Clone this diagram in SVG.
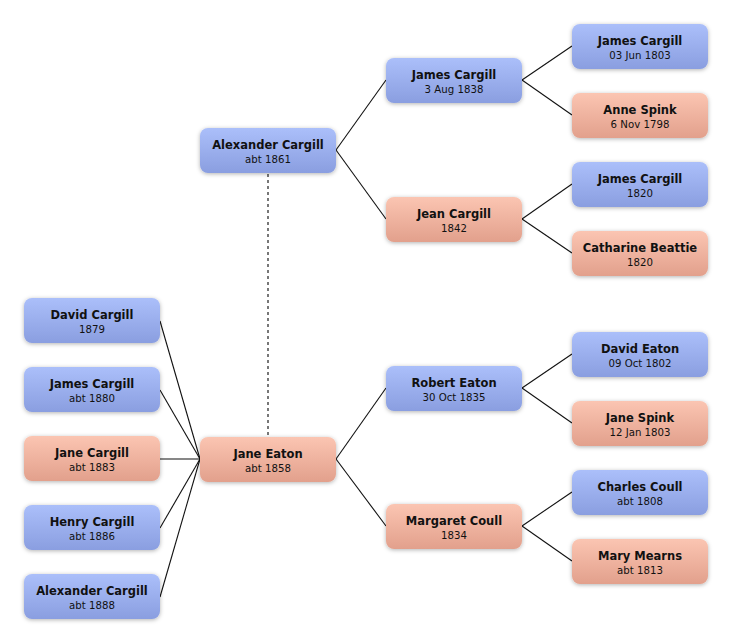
<svg xmlns="http://www.w3.org/2000/svg" width="732" height="644" viewBox="0 0 732 644">
<defs>
<linearGradient id="gb" x1="0" y1="0" x2="0" y2="1"><stop offset="0" stop-color="#abbffa"/><stop offset="1" stop-color="#8a9ee0"/></linearGradient>
<linearGradient id="gp" x1="0" y1="0" x2="0" y2="1"><stop offset="0" stop-color="#fbc5b2"/><stop offset="1" stop-color="#e2a08c"/></linearGradient>
<filter id="sh" x="-20%" y="-30%" width="140%" height="160%"><feDropShadow dx="0" dy="1" stdDeviation="2" flood-color="#000" flood-opacity="0.3"/></filter>
</defs>
<style>
.b{fill:url(#gb);filter:url(#sh)}
.p{fill:url(#gp);filter:url(#sh)}
.n{font-family:"DejaVu Sans",sans-serif;font-weight:bold;font-size:11.5px;fill:#111;text-anchor:middle}
.d{font-family:"DejaVu Sans",sans-serif;font-size:10.2px;fill:#111;text-anchor:middle}
.l{stroke:#111;stroke-width:1.1;fill:none}
.dash{stroke:#777;stroke-width:2;stroke-dasharray:3 3;fill:none}
</style>
<rect width="732" height="644" fill="#fff"/>
<g id="connectors">
<line class="dash" x1="268" y1="174" x2="268" y2="436"/>
<line class="l" x1="336" y1="150" x2="386" y2="80"/>
<line class="l" x1="336" y1="150" x2="386" y2="219"/>
<line class="l" x1="522" y1="80" x2="572" y2="46"/>
<line class="l" x1="522" y1="80" x2="572" y2="115"/>
<line class="l" x1="522" y1="219" x2="572" y2="184"/>
<line class="l" x1="522" y1="219" x2="572" y2="253"/>
<line class="l" x1="336" y1="459" x2="386" y2="388"/>
<line class="l" x1="336" y1="459" x2="386" y2="526"/>
<line class="l" x1="522" y1="388" x2="572" y2="354"/>
<line class="l" x1="522" y1="388" x2="572" y2="423"/>
<line class="l" x1="522" y1="526" x2="572" y2="492"/>
<line class="l" x1="522" y1="526" x2="572" y2="561"/>
<line class="l" x1="200" y1="459" x2="160" y2="321"/>
<line class="l" x1="200" y1="459" x2="160" y2="390"/>
<line class="l" x1="200" y1="459" x2="160" y2="459"/>
<line class="l" x1="200" y1="459" x2="160" y2="528"/>
<line class="l" x1="200" y1="459" x2="160" y2="597"/>
</g>
<g id="n-alexander-1861"><rect class="b" x="200" y="128" width="136" height="45" rx="8"/><text class="n" x="268" y="149">Alexander Cargill</text><text class="d" x="268" y="163">abt 1861</text></g>
<g id="n-jane-eaton"><rect class="p" x="200" y="437" width="136" height="45" rx="8"/><text class="n" x="268" y="458">Jane Eaton</text><text class="d" x="268" y="472">abt 1858</text></g>
<g id="n-james-1838"><rect class="b" x="386" y="58" width="136" height="45" rx="8"/><text class="n" x="454" y="79">James Cargill</text><text class="d" x="454" y="93">3 Aug 1838</text></g>
<g id="n-jean"><rect class="p" x="386" y="197" width="136" height="45" rx="8"/><text class="n" x="454" y="218">Jean Cargill</text><text class="d" x="454" y="232">1842</text></g>
<g id="n-robert"><rect class="b" x="386" y="366" width="136" height="45" rx="8"/><text class="n" x="454" y="387">Robert Eaton</text><text class="d" x="454" y="401">30 Oct 1835</text></g>
<g id="n-margaret"><rect class="p" x="386" y="504" width="136" height="45" rx="8"/><text class="n" x="454" y="525">Margaret Coull</text><text class="d" x="454" y="539">1834</text></g>
<g id="n-james-1803"><rect class="b" x="572" y="24" width="136" height="45" rx="8"/><text class="n" x="640" y="45">James Cargill</text><text class="d" x="640" y="59">03 Jun 1803</text></g>
<g id="n-anne"><rect class="p" x="572" y="93" width="136" height="45" rx="8"/><text class="n" x="640" y="114">Anne Spink</text><text class="d" x="640" y="128">6 Nov 1798</text></g>
<g id="n-james-1820"><rect class="b" x="572" y="162" width="136" height="45" rx="8"/><text class="n" x="640" y="183">James Cargill</text><text class="d" x="640" y="197">1820</text></g>
<g id="n-catharine"><rect class="p" x="572" y="231" width="136" height="45" rx="8"/><text class="n" x="640" y="252">Catharine Beattie</text><text class="d" x="640" y="266">1820</text></g>
<g id="n-david-eaton"><rect class="b" x="572" y="332" width="136" height="45" rx="8"/><text class="n" x="640" y="353">David Eaton</text><text class="d" x="640" y="367">09 Oct 1802</text></g>
<g id="n-jane-spink"><rect class="p" x="572" y="401" width="136" height="45" rx="8"/><text class="n" x="640" y="422">Jane Spink</text><text class="d" x="640" y="436">12 Jan 1803</text></g>
<g id="n-charles"><rect class="b" x="572" y="470" width="136" height="45" rx="8"/><text class="n" x="640" y="491">Charles Coull</text><text class="d" x="640" y="505">abt 1808</text></g>
<g id="n-mary"><rect class="p" x="572" y="539" width="136" height="45" rx="8"/><text class="n" x="640" y="560">Mary Mearns</text><text class="d" x="640" y="574">abt 1813</text></g>
<g id="n-david-1879"><rect class="b" x="24" y="298" width="136" height="45" rx="8"/><text class="n" x="92" y="319">David Cargill</text><text class="d" x="92" y="333">1879</text></g>
<g id="n-james-1880"><rect class="b" x="24" y="367" width="136" height="45" rx="8"/><text class="n" x="92" y="388">James Cargill</text><text class="d" x="92" y="402">abt 1880</text></g>
<g id="n-jane-1883"><rect class="p" x="24" y="436" width="136" height="45" rx="8"/><text class="n" x="92" y="457">Jane Cargill</text><text class="d" x="92" y="471">abt 1883</text></g>
<g id="n-henry"><rect class="b" x="24" y="505" width="136" height="45" rx="8"/><text class="n" x="92" y="526">Henry Cargill</text><text class="d" x="92" y="540">abt 1886</text></g>
<g id="n-alexander-1888"><rect class="b" x="24" y="574" width="136" height="45" rx="8"/><text class="n" x="92" y="595">Alexander Cargill</text><text class="d" x="92" y="609">abt 1888</text></g>
</svg>
